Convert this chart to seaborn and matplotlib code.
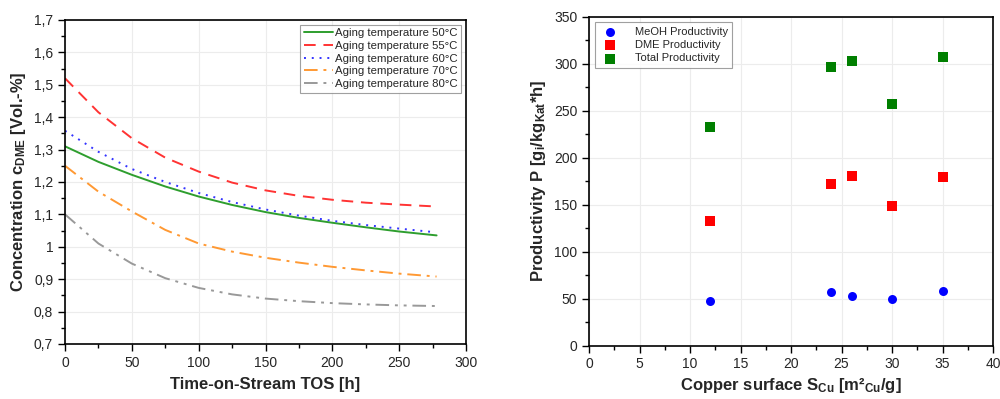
import numpy as np
import pandas as pd
import matplotlib
matplotlib.use('Agg')
import matplotlib.pyplot as plt
from matplotlib.ticker import MultipleLocator, FixedLocator, FixedFormatter
import seaborn as sns

# Linkes Diagramm: DME-Konzentration über TOS
tos = [0, 25, 50, 75, 100, 125, 150, 175, 200, 225, 250, 278]
tos_short = [0, 25, 50, 75, 100, 125, 150, 175, 200, 225, 250, 274]
c_50 = [1.310, 1.262, 1.222, 1.186, 1.155, 1.129, 1.107, 1.089, 1.074, 1.060, 1.047, 1.035]
c_55 = [1.520, 1.415, 1.335, 1.275, 1.232, 1.198, 1.174, 1.157, 1.145, 1.136, 1.130, 1.125]
c_60 = [1.358, 1.293, 1.240, 1.200, 1.166, 1.138, 1.115, 1.096, 1.080, 1.067, 1.056, 1.046]
c_70 = [1.250, 1.170, 1.109, 1.052, 1.010, 0.985, 0.966, 0.951, 0.938, 0.927, 0.917, 0.908]
c_80 = [1.100, 1.010, 0.948, 0.903, 0.873, 0.853, 0.840, 0.832, 0.826, 0.822, 0.819, 0.817]

# Rechtes Diagramm: Produktivität über Kupferoberfläche
s_cu = [12, 24, 26, 30, 35]
p_meoh = [47, 57, 53, 50, 58]
p_dme = [133, 172, 180, 149, 179]
p_total = [233, 297, 303, 257, 307]

sns.set_style('white')
plt.rcParams['font.family'] = ['Liberation Sans', 'DejaVu Sans']
plt.rcParams['mathtext.default'] = 'regular'

fig = plt.figure(figsize=(10, 3.99), dpi=100)
ax1 = fig.add_axes([0.065, 0.138, 0.401, 0.812])
ax2 = fig.add_axes([0.589, 0.134, 0.404, 0.824])

curves = [
    (tos, c_50, 'Aging temperature 50°C', '#2e9e2e', '-'),
    (tos_short, c_55, 'Aging temperature 55°C', '#ff3333', (0, (6, 4))),
    (tos_short, c_60, 'Aging temperature 60°C', '#3333ff', (0, (1, 3))),
    (tos, c_70, 'Aging temperature 70°C', '#ff9933', (0, (7, 3, 1.5, 3))),
    (tos, c_80, 'Aging temperature 80°C', '#999999', (0, (7, 3, 1.5, 3, 1.5, 3))),
]
for x, y, lab, col, ls in curves:
    sns.lineplot(x=x, y=y, ax=ax1, color=col, linestyle=ls, linewidth=1.4, label=lab)

ax1.set_xlim(0, 300)
ax1.set_ylim(0.7, 1.7)
yt = np.round(np.arange(0.7, 1.71, 0.1), 1)
ax1.yaxis.set_major_locator(FixedLocator(yt))
ax1.yaxis.set_major_formatter(FixedFormatter(['1' if v == 1.0 else f'{v:.1f}'.replace('.', ',') for v in yt]))
ax1.xaxis.set_major_locator(MultipleLocator(50))
ax1.xaxis.set_minor_locator(MultipleLocator(25))
ax1.yaxis.set_minor_locator(MultipleLocator(0.05))
ax1.set_xlabel('Time-on-Stream TOS [h]', fontsize=12, fontweight='bold', labelpad=5)
ax1.set_ylabel('Concentration c$_{DME}$ [Vol.-%]', fontsize=12, fontweight='bold')
leg1 = ax1.legend(loc='upper right', fontsize=8.2, frameon=True, fancybox=False,
                  edgecolor='#888888', handlelength=2.6, borderpad=0.3,
                  labelspacing=0.25, handletextpad=0.2, borderaxespad=0.4)
leg1.get_frame().set_linewidth(0.8)

markers = [
    (p_meoh, 'MeOH Productivity', '#0000ff', 'o'),
    (p_dme, 'DME Productivity', '#ff0000', 's'),
    (p_total, 'Total Productivity', '#007f00', 's'),
]
for y, lab, col, mk in markers:
    sns.scatterplot(x=s_cu, y=y, ax=ax2, color=col, marker=mk, s=42, linewidth=0, label=lab)

ax2.set_xlim(0, 40)
ax2.set_ylim(0, 350)
ax2.xaxis.set_major_locator(MultipleLocator(5))
ax2.xaxis.set_minor_locator(MultipleLocator(2.5))
ax2.yaxis.set_major_locator(MultipleLocator(50))
ax2.yaxis.set_minor_locator(MultipleLocator(25))
ax2.set_xlabel('Copper surface S$_{Cu}$ [m²$_{Cu}$/g]', fontsize=12, fontweight='bold', labelpad=3)
ax2.set_ylabel('Productivity P [g$_i$/kg$_{Kat}$*h]', fontsize=12, fontweight='bold')
leg2 = ax2.legend(loc='upper left', fontsize=8, frameon=True, fancybox=False,
                  edgecolor='#888888', borderpad=0.4, labelspacing=0.3,
                  handletextpad=1.2, borderaxespad=0.5)
leg2.get_frame().set_linewidth(0.8)

for ax in (ax1, ax2):
    ax.grid(True, which='major', color='#ececec', linewidth=0.8)
    for sp in ax.spines.values():
        sp.set_visible(True)
        sp.set_color('black')
        sp.set_linewidth(1.2)
    ax.tick_params(which='major', direction='out', length=5, width=1, labelsize=10, color='black')
    ax.tick_params(which='minor', direction='out', length=3, width=1, color='black')
    ax.tick_params(axis='both', which='both', bottom=True, left=True)

fig.savefig('out.png', dpi=100)
